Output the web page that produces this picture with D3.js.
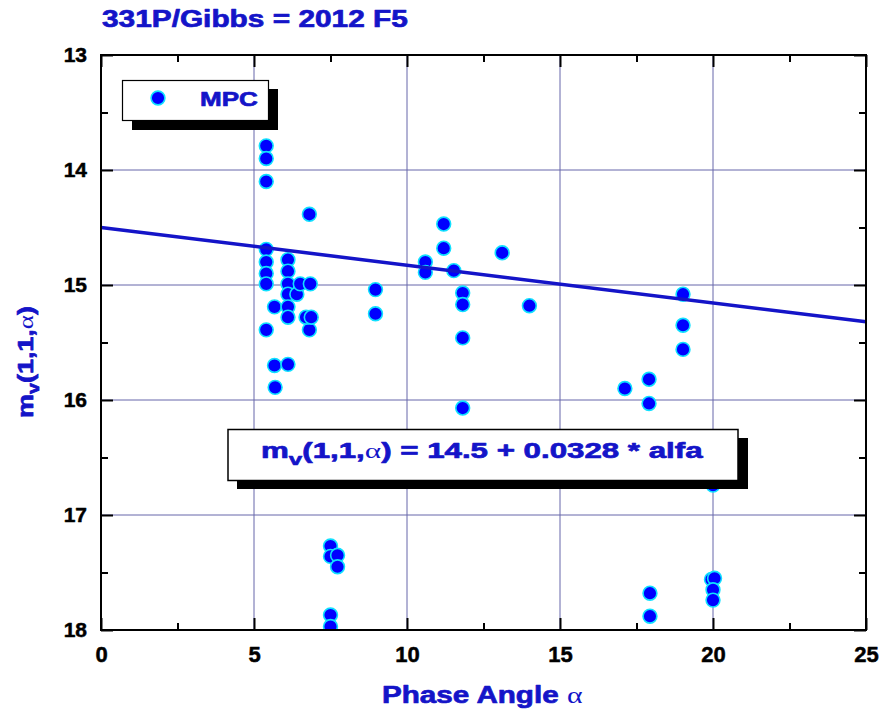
<!DOCTYPE html>
<html>
<head>
<meta charset="utf-8">
<script src="https://cdn.jsdelivr.net/npm/d3@7"></script>
<style>
  html, body { margin: 0; padding: 0; background: #ffffff; }
  svg { display: block; }
</style>
</head>
<body>
<svg id="chart" width="881" height="711"></svg>
<script>
// ---------------- data ----------------
const chartTitle = "331P/Gibbs = 2012 F5";
const legendLabel = "MPC";
const xTicks = [0, 5, 10, 15, 20, 25];
const yTicks = [13, 14, 15, 16, 17, 18];
const xMinorTicks = [2.5, 7.5, 12.5, 17.5, 22.5];
const yMinorTicks = [13.5, 14.5, 15.5, 16.5, 17.5];
const phaseAngle = [
  5.40, 5.40, 5.40, 5.40, 5.40, 5.40, 5.40, 5.40,
  5.67, 5.67, 5.69,
  6.11, 6.11, 6.11, 6.11, 6.11, 6.11, 6.11,
  6.40, 6.51, 6.81, 6.81, 6.84, 6.70, 6.87,
  7.50, 7.50, 7.50, 7.50, 7.73, 7.73,
  8.97, 8.97,
  10.60, 10.60, 11.20, 11.20, 11.53,
  11.82, 11.82, 11.82, 11.82,
  13.11, 14.00,
  17.12, 17.91, 17.91, 17.94, 17.94,
  19.02, 19.02, 19.02,
  20.00, 19.95, 20.05, 20.00, 20.00
];
const magnitude = [
  13.79, 13.90, 14.10, 14.69, 14.80, 14.90, 14.99, 15.39,
  15.19, 15.70, 15.89,
  14.78, 14.88, 14.99, 15.08, 15.19, 15.28, 15.69,
  15.08, 14.99, 14.385, 15.39, 14.99, 15.28, 15.28,
  17.27, 17.36, 17.87, 17.97, 17.35, 17.45,
  15.04, 15.25,
  14.80, 14.89, 14.47, 14.68, 14.875,
  15.07, 15.17, 15.46, 16.07,
  14.72, 15.18,
  15.90, 15.82, 16.03, 17.68, 17.88,
  15.08, 15.35, 15.56,
  16.74, 17.56, 17.55, 17.65, 17.74
];
const fitIntercept = 14.5;
const fitSlope = 0.0328;
const fitRange = [0, 25];

// ---------------- layout ----------------
const svg = d3.select("#chart");
const L = 101, R = 866, T = 55, B = 630;
const x = d3.scaleLinear().domain([0, 25]).range([L, R]);
const y = d3.scaleLinear().domain([13, 18]).range([T, B]);
const blue = "#1414c8";
const gridColor = "#6666aa";
const fontMain = "Liberation Sans, Arial, sans-serif";

function fitWidth(sel, target, ax) {
  const w = sel.node().getBBox().width;
  const s = target / w;
  sel.attr("transform", `translate(${ax},0) scale(${s},1) translate(${-ax},0)`);
}
function heavy(sel, color, w) {
  sel.attr("stroke", color).attr("stroke-width", w).attr("stroke-linejoin", "round");
}

// title
const title = svg.append("text")
  .attr("x", 102).attr("y", 27)
  .attr("font-family", fontMain)
  .attr("font-weight", "bold").attr("font-size", 24)
  .attr("fill", blue).text(chartTitle);
heavy(title, blue, 0.7);
fitWidth(title, 306, 102);

// grid
const grid = svg.append("g");
grid.selectAll("line.gx").data(xTicks.slice(1, -1)).join("line")
  .attr("x1", d => x(d)).attr("x2", d => x(d))
  .attr("y1", T).attr("y2", B)
  .attr("stroke", gridColor).attr("stroke-width", 1);
grid.selectAll("line.gy").data(yTicks.slice(1, -1)).join("line")
  .attr("y1", d => y(d)).attr("y2", d => y(d))
  .attr("x1", L).attr("x2", R)
  .attr("stroke", gridColor).attr("stroke-width", 1);

// axes (ticks inward on all four sides)
function styleAxis(g) {
  g.select(".domain").remove();
  g.selectAll(".tick line").attr("stroke", "#000").attr("stroke-width", 2);
}
const axB = svg.append("g").attr("transform", `translate(0,${B})`)
  .call(d3.axisBottom(x).tickValues(xTicks).tickSize(-12).tickPadding(16).tickFormat(d3.format("d")));
styleAxis(axB);
axB.selectAll(".tick text").attr("font-family", fontMain).attr("font-weight", "bold")
  .attr("font-size", 22).attr("fill", "#000").call(heavy, "#000", 0.5);
svg.append("g").attr("transform", `translate(0,${B})`)
  .call(d3.axisBottom(x).tickValues(xMinorTicks).tickSize(-7).tickFormat(""))
  .call(styleAxis);

const axL = svg.append("g").attr("transform", `translate(${L},0)`)
  .call(d3.axisLeft(y).tickValues(yTicks).tickSize(-12).tickPadding(14).tickFormat(d3.format("d")));
styleAxis(axL);
axL.selectAll(".tick text").attr("font-family", fontMain).attr("font-weight", "bold")
  .attr("font-size", 21).attr("fill", "#000").call(heavy, "#000", 0.5);
svg.append("g").attr("transform", `translate(${L},0)`)
  .call(d3.axisLeft(y).tickValues(yMinorTicks).tickSize(-7).tickFormat(""))
  .call(styleAxis);

svg.append("g").attr("transform", `translate(0,${T})`)
  .call(d3.axisTop(x).tickValues(xTicks).tickSize(-12).tickFormat(""))
  .call(styleAxis);
svg.append("g").attr("transform", `translate(0,${T})`)
  .call(d3.axisTop(x).tickValues(xMinorTicks).tickSize(-7).tickFormat(""))
  .call(styleAxis);
svg.append("g").attr("transform", `translate(${R},0)`)
  .call(d3.axisRight(y).tickValues(yTicks).tickSize(-12).tickFormat(""))
  .call(styleAxis);
svg.append("g").attr("transform", `translate(${R},0)`)
  .call(d3.axisRight(y).tickValues(yMinorTicks).tickSize(-7).tickFormat(""))
  .call(styleAxis);

// clip
svg.append("clipPath").attr("id", "plotclip")
  .append("rect").attr("x", L).attr("y", T).attr("width", R - L).attr("height", B - T);

// points
const pts = phaseAngle.map((a, i) => ({ a, m: magnitude[i] }));
svg.append("g").attr("clip-path", "url(#plotclip)")
  .selectAll("circle").data(pts).join("circle")
  .attr("cx", d => x(d.a)).attr("cy", d => y(d.m)).attr("r", 6.9)
  .attr("fill", "#0000ff").attr("stroke", "#10e0ff").attr("stroke-width", 1.6);

// fit line
const line = d3.line().x(d => x(d)).y(d => y(fitIntercept + fitSlope * d));
svg.append("path").datum(fitRange).attr("d", line)
  .attr("fill", "none").attr("stroke", blue).attr("stroke-width", 3.5);

// frame
svg.append("rect").attr("x", L).attr("y", T).attr("width", R - L).attr("height", B - T)
  .attr("fill", "none").attr("stroke", "#000").attr("stroke-width", 2);

// legend box
svg.append("rect").attr("x", 132).attr("y", 89).attr("width", 146).attr("height", 41).attr("fill", "#000");
svg.append("rect").attr("x", 122.5).attr("y", 80.5).attr("width", 146).attr("height", 40)
  .attr("fill", "#fff").attr("stroke", "#000").attr("stroke-width", 1.2);
svg.append("circle").attr("cx", 158).attr("cy", 98).attr("r", 6.9)
  .attr("fill", "#0000ff").attr("stroke", "#10e0ff").attr("stroke-width", 1.6);
const lt = svg.append("text").attr("x", 200).attr("y", 106.5)
  .attr("font-family", fontMain).attr("font-weight", "bold").attr("font-size", 21)
  .attr("fill", blue).text(legendLabel);
heavy(lt, blue, 0.7);
fitWidth(lt, 58, 200);

// equation box
svg.append("rect").attr("x", 237).attr("y", 438).attr("width", 511).attr("height", 51).attr("fill", "#000");
svg.append("rect").attr("x", 228).attr("y", 429.5).attr("width", 510).attr("height", 51)
  .attr("fill", "#fff").attr("stroke", "#000").attr("stroke-width", 1.5);
const eq = svg.append("text").attr("x", 261).attr("y", 458)
  .attr("font-family", fontMain).attr("font-weight", "bold").attr("font-size", 22).attr("fill", blue);
eq.append("tspan").text("m");
eq.append("tspan").attr("dy", 7).attr("font-size", 17).text("v");
eq.append("tspan").attr("dy", -7).text("(1,1,");
eq.append("tspan").attr("font-family", "Liberation Serif, serif").attr("font-weight", "normal").text("α");
eq.append("tspan").text(") = 14.5 + 0.0328 * alfa");
heavy(eq, blue, 0.7);
fitWidth(eq, 443, 261);

// x axis title
const xt = svg.append("text").attr("x", 382).attr("y", 703)
  .attr("font-family", fontMain).attr("font-weight", "bold").attr("font-size", 24).attr("fill", blue);
xt.append("tspan").text("Phase Angle ");
xt.append("tspan").attr("font-family", "Liberation Serif, serif").attr("font-weight", "normal").attr("stroke-width", 0).text("α");
heavy(xt, blue, 0.7);
xt.select("tspan:last-child").attr("stroke-width", 0);
fitWidth(xt, 201, 382);

// y axis title (rotated)
const ytG = svg.append("g");
const yt = ytG.append("text").attr("x", 0).attr("y", 0)
  .attr("font-family", fontMain).attr("font-weight", "bold").attr("font-size", 22).attr("fill", blue);
yt.append("tspan").text("m");
yt.append("tspan").attr("dy", 6).attr("font-size", 16).text("v");
yt.append("tspan").attr("dy", -6).text("(1,1,");
yt.append("tspan").attr("class", "alpha").attr("font-family", "Liberation Serif, serif").attr("font-weight", "normal").text("α");
yt.append("tspan").text(")");
heavy(yt, blue, 0.7);
yt.select("tspan.alpha").attr("stroke-width", 0);
eq.selectAll("tspan").filter(function () { return d3.select(this).text() === "α"; }).attr("stroke-width", 0);
const yw = yt.node().getBBox().width;
ytG.attr("transform", `translate(33,${362 + 112 / 2}) rotate(-90) scale(${112 / yw},1)`);
</script>
</body>
</html>
